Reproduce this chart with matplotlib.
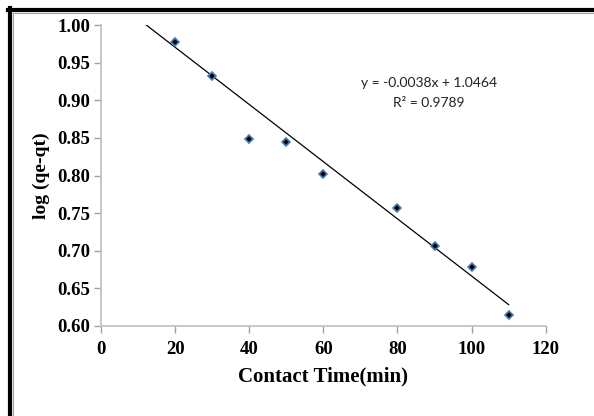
import matplotlib
matplotlib.use("Agg")
import matplotlib.pyplot as plt
from matplotlib.lines import Line2D
import numpy as np

# Data
contact_time = [20, 30, 40, 50, 60, 80, 90, 100, 110]
log_qe_qt = [0.978, 0.932, 0.849, 0.844, 0.802, 0.757, 0.706, 0.678, 0.615]
slope = -0.0038
intercept = 1.0464
trend_x = [11.7, 110]
x_ticks = [0, 20, 40, 60, 80, 100, 120]
y_ticks = [0.60, 0.65, 0.70, 0.75, 0.80, 0.85, 0.90, 0.95, 1.00]
eq_text = "y = -0.0038x + 1.0464"
r2_text = "R² = 0.9789"

W, H = 594, 416
fig = plt.figure(figsize=(W / 100, H / 100), dpi=100)
ax = fig.add_axes([101 / W, 1 - 326 / H, (545.7 - 101) / W, (326 - 25) / H])

tx = np.array(trend_x)
ax.plot(tx, slope * tx + intercept, color="black", lw=0.9, zorder=2)
ax.plot(contact_time, log_qe_qt, linestyle="none", marker="D", markersize=4.5,
        markerfacecolor="black", markeredgecolor="#4a7ebb", markeredgewidth=1.2, zorder=3)

ax.set_xlim(0, 120)
ax.set_ylim(0.60, 1.00)
ax.set_xticks(x_ticks)
ax.set_yticks(y_ticks)
ax.set_xticklabels([str(v) for v in x_ticks])
ax.set_yticklabels([f"{v:.2f}" for v in y_ticks])

serif = "Liberation Serif"
for lab in ax.get_xticklabels() + ax.get_yticklabels():
    lab.set_fontfamily(serif)
    lab.set_fontweight("bold")
    lab.set_fontsize(13.5)

for s in ["top", "right"]:
    ax.spines[s].set_visible(False)
for s in ["left", "bottom"]:
    ax.spines[s].set_color("#bfbfbf")
    ax.spines[s].set_linewidth(1.2)
ax.tick_params(axis="both", direction="out", length=5, width=1, color="#a0a0a0")
ax.tick_params(axis="x", pad=6)
ax.tick_params(axis="y", pad=3)

ax.set_xlabel("Contact Time(min)", fontfamily=serif, fontweight="bold", fontsize=15, labelpad=6)
ax.set_ylabel("log (qe-qt)", fontfamily=serif, fontweight="bold", fontsize=14, labelpad=5)

ax.text(429 / W, 1 - 83 / H, eq_text, transform=fig.transFigure, ha="center", va="center",
        fontfamily="Lato", fontsize=10, color="#222222")
ax.text(429 / W, 1 - 103 / H, r2_text, transform=fig.transFigure, ha="center", va="center",
        fontfamily="Lato", fontsize=10, color="#222222")

# Outer frame (decorative border)
fig.add_artist(Line2D([8 / W, 1], [1 - 9.5 / H, 1 - 9.5 / H], transform=fig.transFigure,
                      color="black", lw=3))
fig.add_artist(Line2D([9.5 / W, 9.5 / W], [0, 1 - 8 / H], transform=fig.transFigure,
                      color="black", lw=3))
fig.add_artist(Line2D([12.5 / W, 1], [1 - 12.5 / H, 1 - 12.5 / H], transform=fig.transFigure,
                      color="#a0a0a0", lw=0.8))
fig.add_artist(Line2D([12.5 / W, 12.5 / W], [0, 1 - 12.5 / H], transform=fig.transFigure,
                      color="#a0a0a0", lw=0.8))

fig.savefig("out.png", dpi=100)
